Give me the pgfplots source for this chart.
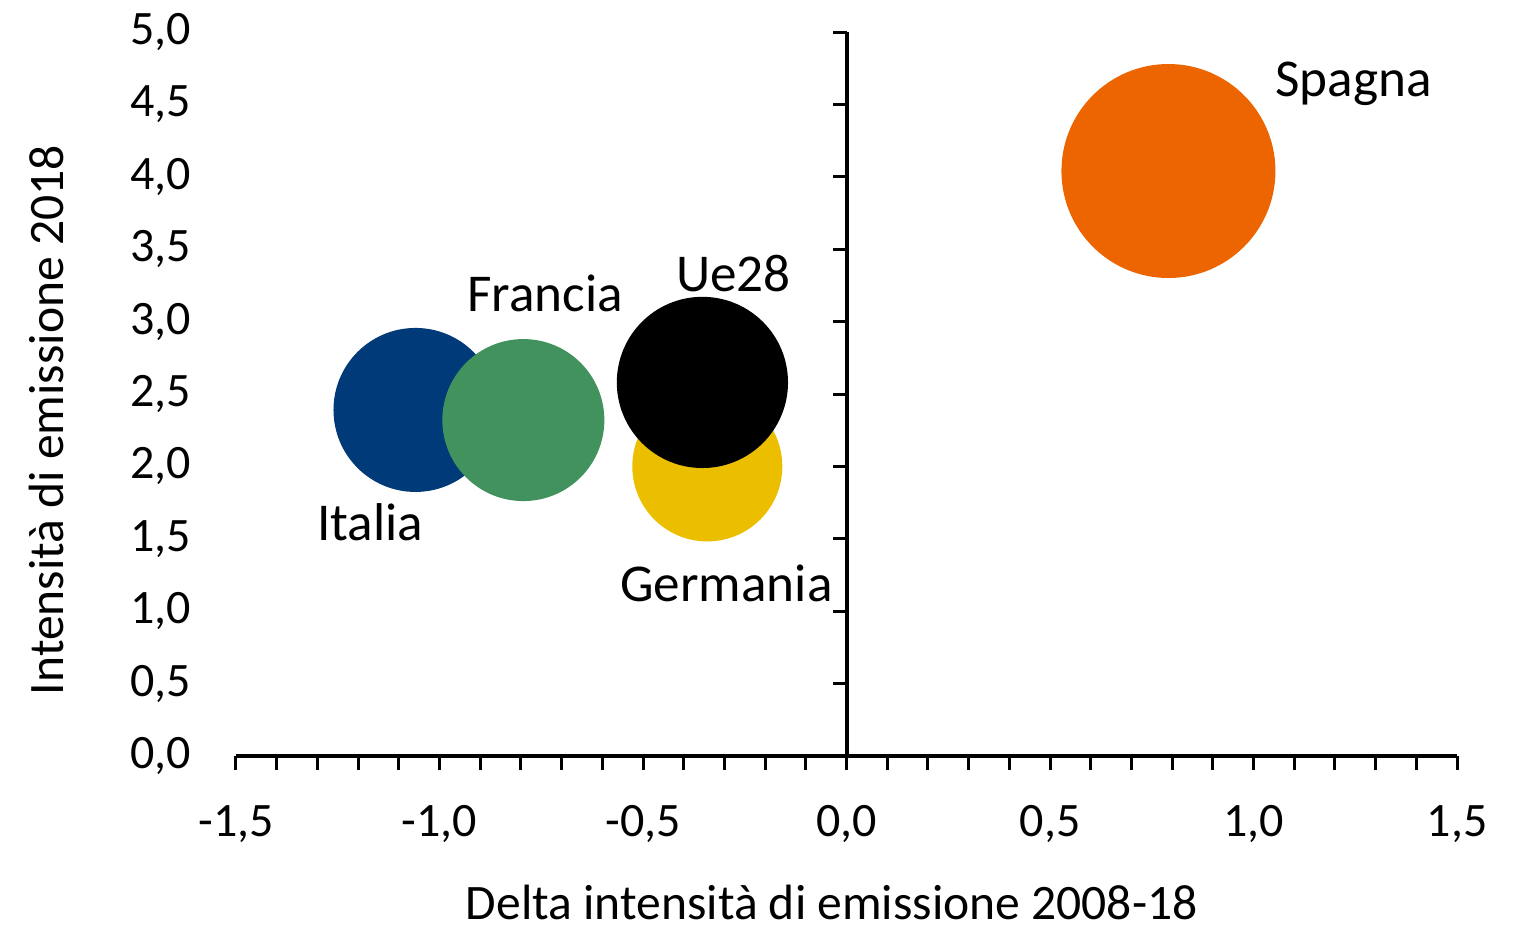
\documentclass[border=0pt]{standalone}
\usepackage{fontspec}
\setmainfont{Carlito}
\usepackage{pgfplots}
\pgfplotsset{compat=1.18}
\definecolor{cItalia}{HTML}{003A78}
\definecolor{cFrancia}{HTML}{42925E}
\definecolor{cGermania}{HTML}{EBBE00}
\definecolor{cUe}{HTML}{000000}
\definecolor{cSpagna}{HTML}{EC6500}
\begin{document}
\begin{tikzpicture}
\useasboundingbox (-59pt,-42pt) rectangle (320.25pt,189pt);
\begin{axis}[
  scale only axis, width=305.25pt, height=181pt,
  xmin=-1.5, xmax=1.5, ymin=0, ymax=5,
  clip=false,
  axis x line*=bottom, axis y line*=left,
  y axis line style={draw=none},
  x axis line style={line width=1pt},
  xtick={-1.5,-1,-0.5,0,0.5,1,1.5},
  ytick={0,0.5,1,1.5,2,2.5,3,3.5,4,4.5,5},
  minor x tick num=4,
  xtick style={line width=0.75pt, black},
  ytick style={draw=none},
  tick align=outside, major tick length=3.5pt, minor tick length=3.5pt,
  /pgf/number format/.cd, use comma, fixed, fixed zerofill, precision=1, assume math mode=true,
  /pgfplots/.cd,
  tick label style={font=\fontsize{12}{14}\selectfont},
  xticklabel style={anchor=base, yshift=-16.7pt},
  yticklabel style={anchor=east, inner xsep=0pt, xshift=-7.5pt},
  every axis x label/.style={at={(axis description cs:0.488,-0.2252)}, anchor=base, font=\fontsize{12.4}{15}\selectfont},
  every axis y label/.style={at={(axis description cs:-0.1409,0.464)}, rotate=90, anchor=base, font=\fontsize{12.4}{15}\selectfont},
  xlabel={Delta intensità di emissione 2008-18},
  ylabel={Intensità di emissione 2018},
]
% vertical axis through x = 0, ticks pointing left
\draw[line width=1pt] (axis cs:0,0) -- (axis cs:0,5);
\pgfplotsinvokeforeach{0.5,1,1.5,2,2.5,3,3.5,4,4.5,5}{
  \draw[line width=0.75pt] (axis cs:0,#1) -- ([xshift=-3.5pt]axis cs:0,#1);
}
% bubbles
\addplot[only marks, mark=*, mark size=20.3pt, color=cItalia] coordinates {(-1.059,2.39)};
\addplot[only marks, mark=*, mark size=20.05pt, color=cFrancia] coordinates {(-0.794,2.32)};
\addplot[only marks, mark=*, mark size=18.55pt, color=cGermania] coordinates {(-0.342,2.00)};
\addplot[only marks, mark=*, mark size=21.2pt, color=cUe] coordinates {(-0.354,2.58)};
\addplot[only marks, mark=*, mark size=26.55pt, color=cSpagna] coordinates {(0.791,4.04)};
% labels
\begin{scope}[every node/.style={anchor=base, font=\fontsize{13.3}{16}\selectfont}]
\node at (axis cs:-1.170,1.487) {Italia};
\node at (axis cs:-0.740,3.068) {Francia};
\node at (axis cs:-0.278,3.207) {Ue28};
\node at (axis cs:-0.295,1.066) {Germania};
\node at (axis cs:1.246,4.553) {Spagna};
\end{scope}
\end{axis}
\end{tikzpicture}
\end{document}
